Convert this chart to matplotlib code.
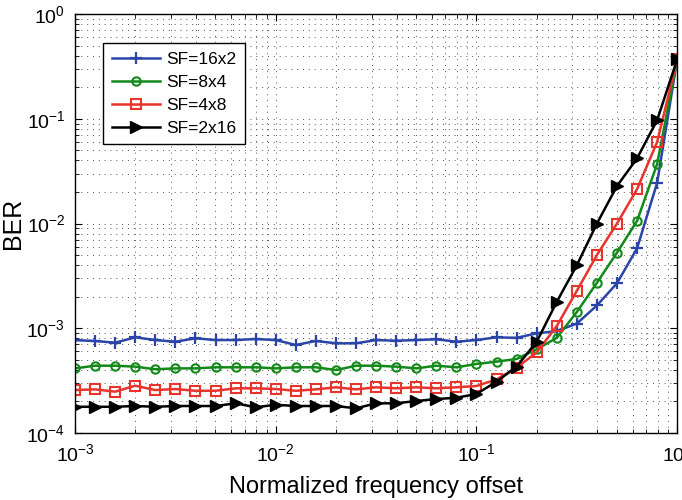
import matplotlib

matplotlib.use("Agg")
import matplotlib.pyplot as plt
import numpy as np

plt.rcParams["font.family"] = ["Liberation Sans", "DejaVu Sans"]
plt.rcParams["mathtext.fontset"] = "custom"
plt.rcParams["mathtext.rm"] = "Liberation Sans"
plt.rcParams["mathtext.it"] = "Liberation Sans:italic"

# frequency offsets: 31 points, 0.1-decade steps from 1e-3 to 1
offset = 10 ** np.linspace(-3, 0, 31)

ber_16x2 = [7.7e-4, 7.56e-4, 7.28e-4, 8.19e-4, 7.72e-4, 7.44e-4, 8.02e-4, 7.72e-4,
            7.72e-4, 7.89e-4, 7.72e-4, 6.92e-4, 7.56e-4, 7.18e-4, 7.18e-4, 7.72e-4,
            7.6e-4, 7.72e-4, 7.84e-4, 7.44e-4, 7.72e-4, 8.19e-4, 8.1e-4, 8.94e-4,
            9.4e-4, 1.11e-3, 1.65e-3, 2.69e-3, 5.8e-3, 2.45e-2, 0.37]
ber_8x4 = [4.14e-4, 4.39e-4, 4.39e-4, 4.30e-4, 4.06e-4, 4.14e-4, 4.14e-4, 4.24e-4,
           4.24e-4, 4.24e-4, 4.14e-4, 4.24e-4, 4.24e-4, 3.99e-4, 4.39e-4, 4.39e-4,
           4.30e-4, 4.14e-4, 4.39e-4, 4.24e-4, 4.56e-4, 4.8e-4, 5.09e-4, 6.3e-4,
           8.1e-4, 1.43e-3, 2.72e-3, 5.27e-3, 1.06e-2, 3.7e-2, 0.37]
ber_4x8 = [2.57e-4, 2.61e-4, 2.48e-4, 2.83e-4, 2.57e-4, 2.63e-4, 2.53e-4, 2.53e-4,
           2.67e-4, 2.67e-4, 2.63e-4, 2.53e-4, 2.61e-4, 2.73e-4, 2.61e-4, 2.73e-4,
           2.67e-4, 2.73e-4, 2.67e-4, 2.73e-4, 2.81e-4, 3.25e-4, 4.2e-4, 5.89e-4,
           1.05e-3, 2.28e-3, 5.0e-3, 1.0e-2, 2.13e-2, 6.0e-2, 0.37]
ber_2x16 = [1.78e-4, 1.78e-4, 1.78e-4, 1.81e-4, 1.78e-4, 1.81e-4, 1.81e-4, 1.81e-4,
            1.92e-4, 1.76e-4, 1.86e-4, 1.81e-4, 1.81e-4, 1.81e-4, 1.72e-4, 1.92e-4,
            1.92e-4, 2.02e-4, 2.11e-4, 2.17e-4, 2.36e-4, 3.09e-4, 4.3e-4, 7.44e-4,
            1.79e-3, 4.0e-3, 1.0e-2, 2.28e-2, 4.19e-2, 9.7e-2, 0.37]

labels = ["SF=16x2", "SF=8x4", "SF=4x8", "SF=2x16"]

fig = plt.figure(figsize=(6.82, 5.0), dpi=100)
ax = fig.add_axes([0.110, 0.134, 0.883, 0.838])

ax.loglog(offset, ber_16x2, color="#2b44a8", marker="+", ms=9, mew=1.6, lw=1.8,
          label=labels[0])
ax.loglog(offset, ber_8x4, color="#13891a", marker="o", ms=6, mew=1.5, mfc="none",
          lw=1.8, label=labels[1])
ax.loglog(offset, ber_4x8, color="#e8342c", marker="s", ms=6.5, mew=1.5, mfc="none",
          lw=1.8, label=labels[2])
ax.loglog(offset, ber_2x16, color="black", marker=">", ms=8, lw=1.8, label=labels[3])

ax.set_xlim(1e-3, 1)
ax.set_ylim(1e-4, 1)
ax.grid(True, which="both", linestyle=(0, (1, 5)), color="#555555", lw=0.7)
ax.tick_params(which="both", direction="in", top=True, right=True, labelsize=14)
ax.tick_params(which="major", length=5, pad=7)
ax.tick_params(which="minor", length=3)
for s in ax.spines.values():
    s.set_linewidth(1.0)

ax.set_xlabel("Normalized frequency offset", fontsize=17, labelpad=8)
ax.set_ylabel("BER", fontsize=18)
ax.yaxis.set_label_coords(-0.083, 0.5)

leg = ax.legend(loc="upper left", bbox_to_anchor=(0.0465, 0.931), borderaxespad=0,
                fontsize=12.5, fancybox=False, framealpha=1, edgecolor="black",
                borderpad=0.5, handlelength=2.8, handletextpad=0.35,
                labelspacing=0.45)
leg.get_frame().set_linewidth(1.0)

fig.savefig("out.png", dpi=100)
